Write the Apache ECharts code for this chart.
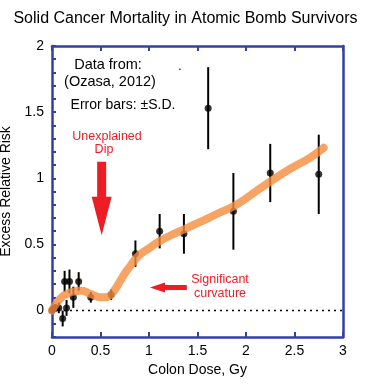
<!DOCTYPE html>
<html><head><meta charset="utf-8">
<script src="https://cdn.jsdelivr.net/npm/echarts@6/dist/echarts.min.js"></script>
<style>html,body{margin:0;padding:0;background:#fff}#c{width:371px;height:385px}</style>
</head><body><div id="c"></div>
<script>
// Data
const doses  = [0, 0.01, 0.035, 0.07, 0.11, 0.13, 0.15, 0.18, 0.22, 0.275, 0.40, 0.61, 0.86, 1.11, 1.36, 1.61, 1.87, 2.25, 2.75];
const err    = [0, 0.01, 0.02, 0.02, -0.06, 0.22, 0.02, 0.22, 0.10, 0.22, 0.10, 0.12, 0.43, 0.60, 0.58, 1.53, 0.75, 1.04, 1.03];
const errSD  = [0.01, 0.02, 0.03, 0.04, 0.06, 0.08, 0.06, 0.09, 0.08, 0.07, 0.04, 0.04, 0.10, 0.13, 0.15, 0.31, 0.29, 0.22, 0.30];
const fitX   = [0, 0.05, 0.1, 0.15, 0.2, 0.3, 0.4, 0.5, 0.55, 0.6, 0.65, 0.7, 0.75, 0.8, 0.9, 1.0, 1.1, 1.2, 1.35, 1.5, 1.7, 1.9, 2.1, 2.3, 2.5, 2.65, 2.8];
const fitY   = [0.0, 0.06, 0.1, 0.125, 0.14, 0.15, 0.125, 0.1, 0.1, 0.115, 0.16, 0.22, 0.28, 0.33, 0.42, 0.47, 0.52, 0.56, 0.61, 0.66, 0.73, 0.80, 0.90, 1.0, 1.09, 1.15, 1.23];
const xTicks = [0, 0.5, 1, 1.5, 2, 2.5, 3];
const yLabels = [0, 0.5, 1, 1.5, 2];

const AX = '#3340a8';
const chart = echarts.init(document.getElementById('c'));
const pts = doses.map((d, i) => [d, err[i]]);
const bars = doses.map((d, i) => [d, err[i] - errSD[i], err[i] + errSD[i]]);
const fit = fitX.map((d, i) => [d, fitY[i]]);

chart.setOption({
  animation: false,
  title: { text: 'Solid Cancer Mortality in Atomic Bomb Survivors', left: 'center', top: 6,
    textStyle: { fontFamily: 'Liberation Sans', fontSize: 16, fontWeight: 'normal', color: '#000' } },
  grid: { left: 52, right: 28, top: 46, bottom: 48, containLabel: false, outerBoundsMode: 'none' },
  xAxis: [{
    type: 'value', min: 0, max: 3, interval: 0.5,
    name: 'Colon Dose, Gy', nameLocation: 'middle', nameGap: 26,
    nameTextStyle: { fontFamily: 'Liberation Sans', fontSize: 14, color: '#000' },
    axisLine: { onZero: false, lineStyle: { color: AX, width: 2.5 } },
    axisTick: { inside: true, length: 5, lineStyle: { color: AX, width: 2 } },
    axisLabel: { fontFamily: 'Liberation Sans', fontSize: 14, color: '#000', margin: 7,
      formatter: v => xTicks.indexOf(v) >= 0 ? String(v) : '' },
    splitLine: { show: false }
  }, {
    type: 'value', position: 'top', min: 0, max: 3, interval: 0.5,
    axisLine: { onZero: false, lineStyle: { color: AX, width: 2.5 } },
    axisTick: { inside: true, length: 5, lineStyle: { color: AX, width: 2 } },
    axisLabel: { show: false }, splitLine: { show: false }
  }],
  yAxis: [{
    type: 'value', min: -0.2, max: 2, interval: 0.1,
    name: 'Excess Relative Risk', nameLocation: 'middle', nameGap: 32,
    nameTextStyle: { fontFamily: 'Liberation Sans', fontSize: 14, color: '#000' },
    axisLine: { onZero: false, lineStyle: { color: AX, width: 2.5 } },
    axisTick: { inside: true, length: 4, lineStyle: { color: AX, width: 2 } },
    axisLabel: { fontFamily: 'Liberation Sans', fontSize: 14, color: '#000', margin: 8,
      formatter: v => {
        const k = Math.round(v * 2) / 2;
        return (Math.abs(v - k) < 1e-6 && yLabels.indexOf(k) >= 0) ? String(k) : '';
      } },
    splitLine: { show: false }
  }, {
    type: 'value', position: 'right', min: -0.2, max: 2,
    axisLine: { onZero: false, lineStyle: { color: AX, width: 2.5 } },
    axisTick: { show: false }, axisLabel: { show: false }, splitLine: { show: false }
  }],
  series: [{
    type: 'line', data: [[0, 0], [3, 0]], symbol: 'none', silent: true, z: 1,
    lineStyle: { color: '#000', width: 1.5, type: [2, 4] }
  }, {
    type: 'custom', z: 2,
    renderItem: (params, api) => {
      const x = api.value(0);
      const a = api.coord([x, api.value(1)]);
      const b = api.coord([x, api.value(2)]);
      return { type: 'line', shape: { x1: a[0], y1: a[1], x2: b[0], y2: b[1] },
        style: { stroke: '#000', lineWidth: 2 } };
    },
    data: bars
  }, {
    type: 'scatter', data: pts, symbolSize: 7, z: 3,
    itemStyle: { color: '#000' }
  }, {
    type: 'line', data: fit, smooth: 0.5, symbol: 'none', z: 4,
    lineStyle: { color: 'rgba(245,140,60,0.8)', width: 8, cap: 'round' }
  }]
});

// Annotation arrows placed in data coordinates
function P(x, y) { return chart.convertToPixel({ xAxisIndex: 0, yAxisIndex: 0 }, [x, y]); }
const dTop = P(0.512, 1.125), dBase = P(0.512, 0.86), dTip = P(0.512, 0.57);
const lTail = P(1.39, 0.174), lBase = P(1.165, 0.174), lTip = P(1.01, 0.174);
const RED = '#ee1c25';
const T = (text, x, y, size, color) => ({ type: 'text', x: x, y: y,
  style: { text: text, fontFamily: 'Liberation Sans', fontSize: size, fill: color, align: 'center', verticalAlign: 'middle' } });
chart.setOption({
  graphic: [
    { type: 'polygon', shape: { points: [
      [dTop[0] - 4.5, dTop[1]], [dTop[0] + 4.5, dTop[1]], [dBase[0] + 4.5, dBase[1]], [dBase[0] + 10, dBase[1]],
      [dTip[0], dTip[1]], [dBase[0] - 10, dBase[1]], [dBase[0] - 4.5, dBase[1]] ] }, style: { fill: RED } },
    { type: 'polygon', shape: { points: [
      [lTail[0], lTail[1] - 2.5], [lTail[0], lTail[1] + 2.5], [lBase[0], lBase[1] + 2.5], [lBase[0], lBase[1] + 5],
      [lTip[0], lTip[1]], [lBase[0], lBase[1] - 5], [lBase[0], lBase[1] - 2.5] ] }, style: { fill: RED } },
    T('Data from:', 108, 65, 14.5, '#000'),
    T('(Ozasa, 2012)', 110, 82, 14.5, '#000'),
    T('Error bars: \u00b1S.D.', 123, 105, 14, '#000'),
    T('.', 180, 67, 12, '#000'),
    T('Unexplained', 107, 137, 12.5, RED),
    T('Dip', 104, 150, 12.5, RED),
    T('Significant', 220, 280, 12.5, RED),
    T('curvature', 220, 294, 12.5, RED)
  ]
});
</script></body></html>
